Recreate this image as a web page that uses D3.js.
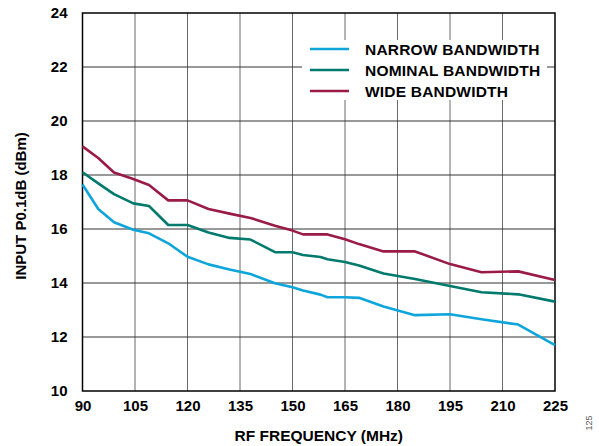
<!DOCTYPE html>
<html>
<head>
<meta charset="utf-8">
<script src="https://cdn.jsdelivr.net/npm/d3@7"></script>
<style>
  body { margin: 0; background: #fff; }
  svg { display: block; font-family: Arial, "Liberation Sans", sans-serif; }
</style>
</head>
<body>
<div id="chart"></div>
<script>
// frequency points (MHz)
const freq = [90, 94.5, 99, 104.5, 109, 114.5, 120, 126, 132, 138, 145, 150, 153, 158, 160, 165, 169, 176, 185, 195, 204, 214.5, 225];

const narrow = [17.65, 16.74, 16.25, 15.97, 15.84, 15.47, 14.97, 14.69, 14.50, 14.33, 13.99, 13.84, 13.72, 13.57, 13.47, 13.47, 13.45, 13.13, 12.81, 12.84, 12.66, 12.46, 11.70];
const nominal = [18.10, 17.69, 17.29, 16.95, 16.85, 16.15, 16.15, 15.87, 15.67, 15.61, 15.14, 15.14, 15.04, 14.96, 14.88, 14.78, 14.65, 14.35, 14.15, 13.89, 13.66, 13.58, 13.31];
const wide = [19.06, 18.63, 18.09, 17.85, 17.63, 17.06, 17.06, 16.74, 16.57, 16.41, 16.12, 15.94, 15.80, 15.80, 15.80, 15.62, 15.44, 15.17, 15.17, 14.70, 14.40, 14.43, 14.11];

const xTicks = [90, 105, 120, 135, 150, 165, 180, 195, 210, 225];
const yTicks = [10, 12, 14, 16, 18, 20, 22, 24];

const seriesNames = ['NARROW BANDWIDTH', 'NOMINAL BANDWIDTH', 'WIDE BANDWIDTH'];
const seriesColors = ['#0ea5db', '#007a6c', '#9b1b47'];
const seriesValues = [narrow, nominal, wide];

const W = 599, H = 446;
const margin = { top: 13, right: 44, bottom: 55, left: 82.5 };
const width = W - margin.left - margin.right;
const height = H - margin.top - margin.bottom;

const svg = d3.select('#chart').append('svg')
    .attr('width', W)
    .attr('height', H);

const g = svg.append('g')
    .attr('transform', `translate(${margin.left},${margin.top})`);

const x = d3.scaleLinear().domain([90, 225]).range([0, width]);
const y = d3.scaleLinear().domain([10, 24]).range([height, 0]);

// grid
g.append('g').selectAll('line')
    .data(xTicks.slice(1, -1))
    .join('line')
    .attr('x1', d => x(d)).attr('x2', d => x(d))
    .attr('y1', 0).attr('y2', height)
    .attr('stroke', '#6a6a6a').attr('stroke-width', 1);

g.append('g').selectAll('line')
    .data(yTicks.slice(1, -1))
    .join('line')
    .attr('x1', 0).attr('x2', width)
    .attr('y1', d => y(d)).attr('y2', d => y(d))
    .attr('stroke', '#333').attr('stroke-width', 1);

// axes
const xAxis = g.append('g')
    .attr('transform', `translate(0,${height})`)
    .call(d3.axisBottom(x).tickValues(xTicks).tickSize(0).tickPadding(9));
const yAxis = g.append('g')
    .call(d3.axisLeft(y).tickValues(yTicks).tickSize(0).tickPadding(15));

[xAxis, yAxis].forEach(a => {
    a.select('.domain').remove();
    a.selectAll('text')
        .attr('fill', '#000')
        .style('font-size', '15px')
        .style('font-weight', 'bold')
        .style('font-family', 'Arial, "Liberation Sans", sans-serif');
});

// frame
g.append('rect')
    .attr('width', width).attr('height', height)
    .attr('fill', 'none').attr('stroke', '#000').attr('stroke-width', 1.5);

// legend background
const legend = g.append('g');
legend.append('rect')
    .attr('x', 302 - margin.left).attr('y', 40 - margin.top)
    .attr('width', 245).attr('height', 60)
    .attr('fill', '#fff');

// lines
const line = d3.line()
    .x((d, i) => x(freq[i]))
    .y(d => y(d));

g.append('g').selectAll('path')
    .data(seriesValues)
    .join('path')
    .attr('d', d => line(d))
    .attr('fill', 'none')
    .attr('stroke', (d, i) => seriesColors[i])
    .attr('stroke-width', 2.6)
    .attr('stroke-linejoin', 'round');

// legend entries
const items = legend.selectAll('g.item')
    .data(seriesNames)
    .join('g')
    .attr('class', 'item')
    .attr('transform', (d, i) => `translate(${310 - margin.left},${49 - margin.top + i * 21})`);

items.append('line')
    .attr('x1', 0).attr('x2', 39)
    .attr('stroke', (d, i) => seriesColors[i])
    .attr('stroke-width', 2.6);

items.append('text')
    .attr('x', 55).attr('dy', '0.36em')
    .style('font-size', '15.5px')
    .style('letter-spacing', '0.2px')
    .style('font-weight', 'bold')
    .text(d => d);

// axis titles
svg.append('text')
    .attr('x', margin.left + width / 2)
    .attr('y', 441)
    .attr('text-anchor', 'middle')
    .style('font-size', '15.5px')
    .style('font-weight', 'bold')
    .text('RF FREQUENCY (MHz)');

svg.append('text')
    .attr('transform', 'translate(26,206) rotate(-90)')
    .attr('text-anchor', 'middle')
    .style('font-size', '15px')
    .style('font-weight', 'bold')
    .text('INPUT P0.1dB (dBm)');

svg.append('text')
    .attr('transform', 'translate(592,423) rotate(-90)')
    .attr('text-anchor', 'middle')
    .style('font-size', '9px')
    .attr('fill', '#555')
    .text('125');
</script>
</body>
</html>
